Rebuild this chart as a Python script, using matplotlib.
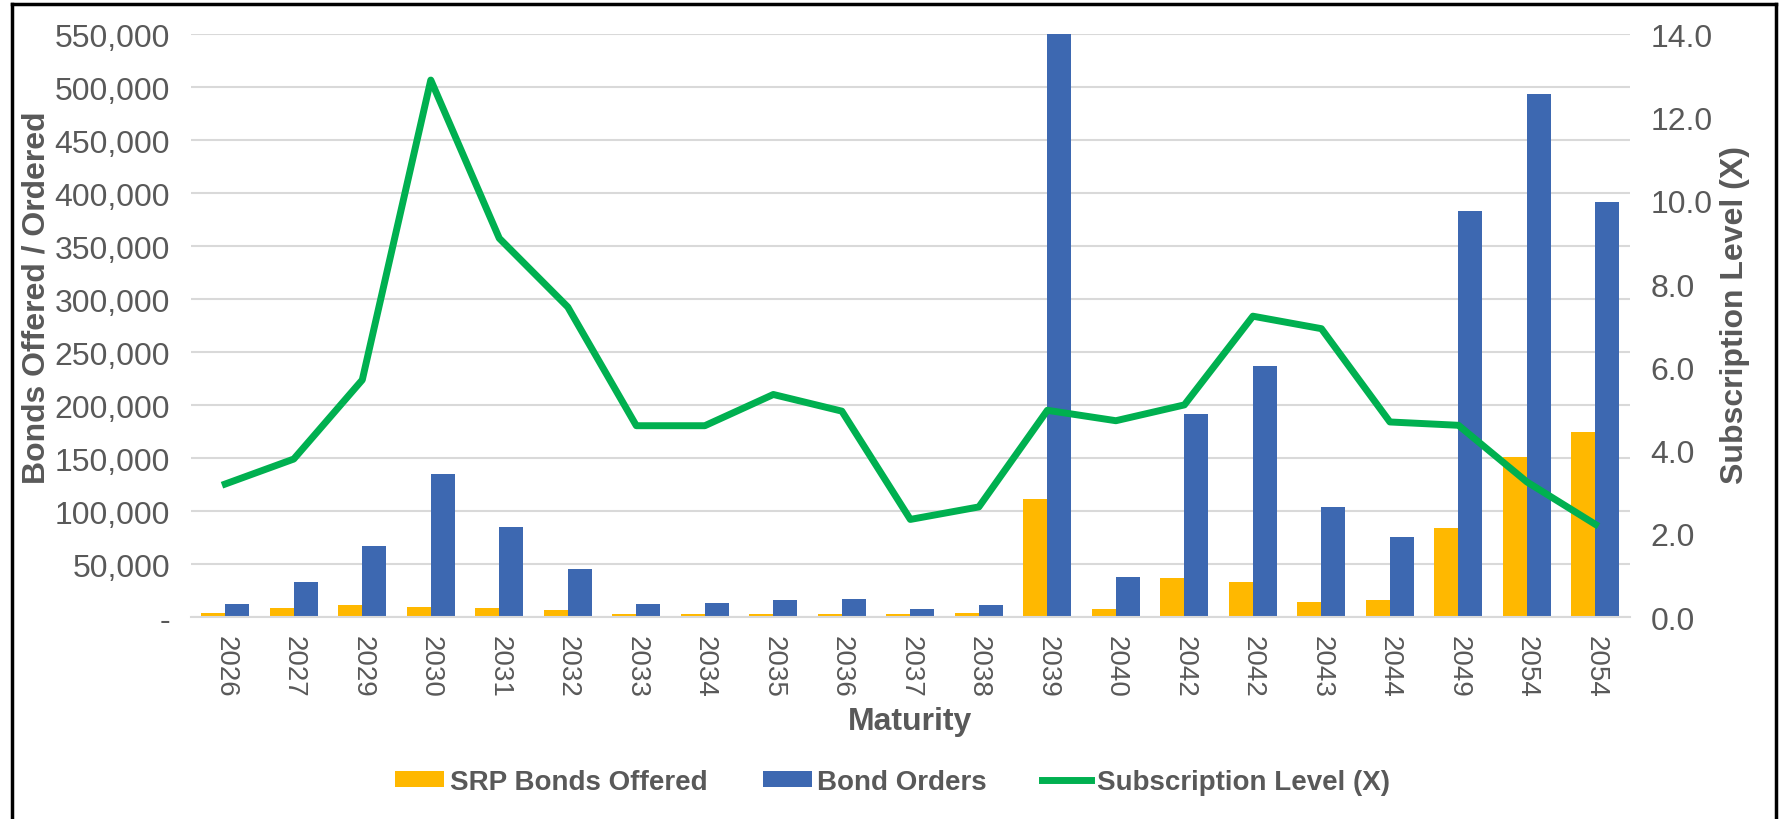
import matplotlib.pyplot as plt
import matplotlib.ticker as mticker
from matplotlib.lines import Line2D
import numpy as np

plt.rcParams['font.family'] = ['Liberation Sans', 'DejaVu Sans']

maturity = ['2026', '2027', '2029', '2030', '2031', '2032', '2033', '2034', '2035', '2036', '2037',
            '2038', '2039', '2040', '2042', '2042', '2043', '2044', '2049', '2054', '2054']
bonds_offered = [4400, 9100, 11300, 10000, 9100, 6600, 3100, 3000, 3000, 3000, 3000,
                 4400, 112000, 7800, 37000, 33600, 14700, 16000, 83800, 151600, 174800]
bond_orders = [12200, 33600, 67500, 135000, 84700, 46000, 12600, 13800, 16000, 17300, 7800,
               11300, 550000, 38000, 191500, 237000, 103600, 75600, 383600, 494000, 391800]
subscription = [3.2, 3.8, 5.7, 12.9, 9.1, 7.45, 4.6, 4.6, 5.35, 4.95, 2.35,
                2.65, 4.97, 4.72, 5.1, 7.23, 6.93, 4.69, 4.61, 3.25, 2.23]

grey = '#595959'
x = np.arange(len(maturity))
w = 0.35

fig = plt.figure(figsize=(17.85, 8.2), dpi=100)
ax = fig.add_axes([0.107, 0.246, 0.806, 0.711])
ax2 = ax.twinx()

ax.bar(x - w / 2, bonds_offered, w, color='#FFB800', label='SRP Bonds Offered', zorder=2)
ax.bar(x + w / 2, bond_orders, w, color='#3D68B1', label='Bond Orders', zorder=2)
ax2.plot(x, subscription, color='#00B050', lw=5, label='Subscription Level (X)')

ax.set_xlim(-0.5, len(maturity) - 0.5)
ax.set_ylim(0, 550000)
ax.yaxis.set_major_locator(mticker.MultipleLocator(50000))
ax.yaxis.set_major_formatter(mticker.FuncFormatter(lambda v, p: '-' if v == 0 else f'{int(v):,}'))
ax2.set_ylim(0, 14)
ax2.yaxis.set_major_locator(mticker.MultipleLocator(2))
ax2.yaxis.set_major_formatter(mticker.FormatStrFormatter('%.1f'))

ax.grid(axis='y', color='#D9D9D9', lw=1.5, zorder=0)
ax.set_axisbelow(True)
for a in (ax, ax2):
    for s in a.spines.values():
        s.set_visible(False)
    a.tick_params(length=0, labelsize=23, labelcolor=grey)
ax.spines['bottom'].set_visible(True)
ax.spines['bottom'].set_color('#D9D9D9')
ax.spines['bottom'].set_linewidth(1.5)

ax.set_xticks(x)
ax.set_xticklabels(maturity, rotation=-90)
ax.tick_params(axis='x', pad=13, labelsize=20)
ax.tick_params(axis='y', pad=15)
ax2.tick_params(axis='y', pad=15)

ax.set_xlabel('Maturity', fontsize=23, fontweight='bold', color=grey)
ax.set_ylabel('Bonds Offered / Ordered', fontsize=23, fontweight='bold', color=grey)
ax2.set_ylabel('Subscription Level (X)', fontsize=23, fontweight='bold', color=grey)
ax.xaxis.set_label_coords(0.5, -0.152)
ax.yaxis.set_label_coords(-0.097, 0.55)
ax2.yaxis.set_label_coords(1.063, 0.52)

h1, l1 = ax.get_legend_handles_labels()
h2, l2 = ax2.get_legend_handles_labels()
fig.legend(h1 + h2, l1 + l2, loc='center', bbox_to_anchor=(0.5, 0.045), ncol=3, frameon=False,
           prop={'size': 20, 'weight': 'bold'}, labelcolor=grey, handlelength=1.76, handleheight=0.5,
           handletextpad=0.2, columnspacing=2.0)

# outer frame
for xs, ys in [([0.007, 0.007], [0, 0.994]), ([0.007, 0.995], [0.994, 0.994]), ([0.995, 0.995], [0, 0.994])]:
    fig.add_artist(Line2D(xs, ys, color='black', lw=2.5, transform=fig.transFigure))

fig.savefig('out.png', dpi=100)
